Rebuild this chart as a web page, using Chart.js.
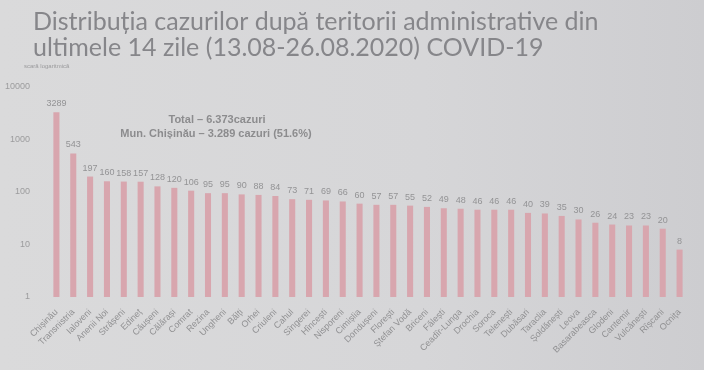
<!DOCTYPE html>
<html>
<head>
<meta charset="utf-8">
<script src="https://cdn.jsdelivr.net/npm/chart.js@4"></script>
<style>
  html, body { margin: 0; padding: 0; }
  body { width: 704px; height: 370px; background: linear-gradient(90deg, #dadadb 0%, #d6d6d8 60%, #cdcdd0 100%); }
  #wrap { position: relative; width: 704px; height: 370px; }
</style>
</head>
<body>
<div id="wrap"><canvas id="myChart" width="704" height="370"></canvas></div>
<script>
var raioane = ['Chișinău', 'Transnistria', 'Ialoveni', 'Anenii Noi', 'Strășeni', 'Edineț', 'Căușeni', 'Călărași',
  'Comrat', 'Rezina', 'Ungheni', 'Bălți', 'Orhei', 'Criuleni', 'Cahul', 'Sîngerei', 'Hîncești', 'Nisporeni',
  'Cimișlia', 'Dondușeni', 'Florești', 'Ștefan Vodă', 'Briceni', 'Fălești', 'Ceadîr-Lunga', 'Drochia', 'Soroca',
  'Telenești', 'Dubăsari', 'Taraclia', 'Șoldănești', 'Leova', 'Basarabeasca', 'Glodeni', 'Cantemir', 'Vulcănești',
  'Rîșcani', 'Ocnița'];
var cazuri = [3289, 543, 197, 160, 158, 157, 128, 120, 106, 95, 95, 90, 88, 84, 73, 71, 69, 66,
  60, 57, 57, 55, 52, 49, 48, 46, 46, 46, 40, 39, 35, 30, 26, 24, 23, 23, 20, 8];
var yTicks = [1, 10, 100, 1000, 10000];
var titlu = ['Distribuția cazurilor după teritorii administrative din', 'ultimele 14 zile (13.08-26.08.2020) COVID-19'];
var subtitlu = 'scară logaritmică';
var nota = ['Total – 6.373cazuri', 'Mun. Chișinău – 3.289 cazuri (51.6%)'];

var textPlugin = {
  id: 'textPlugin',
  afterDraw: function (chart) {
    var c = chart.ctx;
    c.save();
    c.fillStyle = '#86868a';
    c.textAlign = 'left';
    c.textBaseline = 'alphabetic';
    c.font = '25px Lato';
    c.fillText(titlu[0], 33, 30);
    c.fillText(titlu[1], 33, 56);
    c.font = '6px "Liberation Sans"';
    c.fillStyle = '#9a9a9c';
    c.fillText(subtitlu, 24, 68);
    c.font = 'bold 11px "Liberation Sans"';
    c.fillStyle = '#8c8c8e';
    c.textAlign = 'center';
    c.fillText(nota[0], 217, 123);
    c.fillText(nota[1], 216, 137);
    c.restore();
  }
};

var valuePlugin = {
  id: 'valuePlugin',
  afterDatasetsDraw: function (chart) {
    var c = chart.ctx;
    var meta = chart.getDatasetMeta(0);
    c.save();
    c.font = '9px "Liberation Sans"';
    c.fillStyle = '#939395';
    c.textAlign = 'center';
    c.textBaseline = 'bottom';
    meta.data.forEach(function (bar, i) {
      c.fillText(cazuri[i], bar.x, bar.y - 4);
    });
    c.restore();
  }
};

var ctx = document.getElementById('myChart');
var myChart = new Chart(ctx, {
  type: 'bar',
  data: {
    labels: raioane,
    datasets: [{
      data: cazuri,
      backgroundColor: '#d8a6ae',
      categoryPercentage: 1,
      barPercentage: 0.36
    }]
  },
  options: {
    responsive: false,
    animation: false,
    layout: { padding: { top: 87, right: 16, left: 0, bottom: 0 } },
    plugins: {
      legend: { display: false },
      tooltip: { enabled: false }
    },
    scales: {
      x: {
        grid: { display: false },
        border: { display: false },
        ticks: {
          autoSkip: false,
          minRotation: 45,
          maxRotation: 45,
          color: '#909092',
          font: { size: 9, family: 'Liberation Sans' },
          padding: 2
        },
        afterFit: function (scale) { scale.height = 73; }
      },
      y: {
        type: 'logarithmic',
        min: 1,
        max: 10000,
        grid: { display: false },
        border: { display: false },
        afterBuildTicks: function (scale) {
          scale.ticks = yTicks.map(function (v) { return { value: v }; });
        },
        afterFit: function (scale) { scale.width = 48; },
        ticks: {
          color: '#9c9c9e',
          font: { size: 9, family: 'Liberation Sans' },
          padding: 10,
          callback: function (v) { return String(v); }
        }
      }
    }
  },
  plugins: [textPlugin, valuePlugin]
});
</script>
</body>
</html>
